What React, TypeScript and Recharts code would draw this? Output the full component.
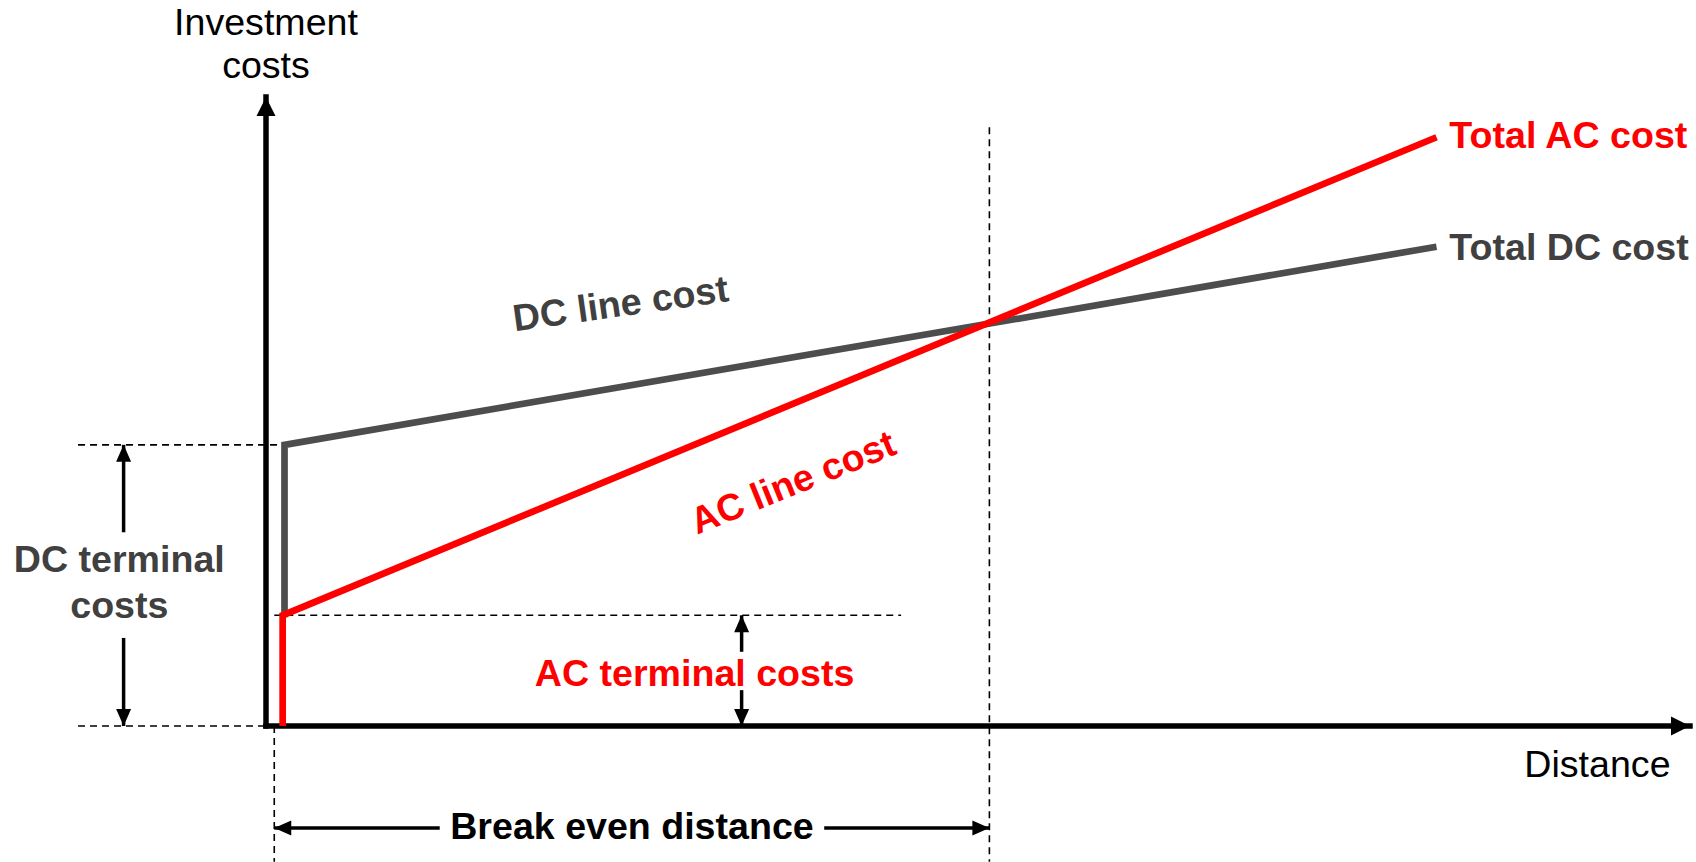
import React from 'react';
import { ComposedChart, Line, XAxis, YAxis, ReferenceLine, ReferenceDot } from 'recharts';

// distance (x) / investment cost (y), arbitrary units
const acDistance = [1.17, 1.17, 82.2];
const acCost = [0, 17.6, 93.6];
const dcDistance = [1.3, 1.3, 82.2];
const dcCost = [17.3, 44.7, 76.2];

const acTerminal = acCost[1];
const dcTerminal = dcCost[1];
const breakEven = 50.8;

const acPoints = acDistance.map((x, i) => ({ x, y: acCost[i] }));
const dcPoints = dcDistance.map((x, i) => ({ x, y: dcCost[i] }));

const RED = '#FF0000';
const GREY_LINE = '#4D4D4D';
const GREY_TEXT = '#404040';
const FONT = '"Liberation Sans", Arial, sans-serif';

// dashed helper lines: [x1, y1, x2, y2]
const guides = [
  [breakEven, 95.2, breakEven, -21.6],
  [0.58, 0, 0.58, -21.6],
  [-13.2, dcTerminal, 1.3, dcTerminal],
  [-13.2, 0, 0, 0],
  [0.58, acTerminal, 44.6, acTerminal],
];

// dimension arrows, each split round its label: [x1, y1, x2, y2]
const dimSegments = [
  [-10, dcTerminal, -10, 30.8],
  [-10, 14.0, -10, 0],
  [33.4, acTerminal, 33.4, 11.8],
  [33.4, 5.7, 33.4, 0],
  [0.58, -16.2, 12.2, -16.2],
  [39.2, -16.2, breakEven, -16.2],
];

type Dir = 'up' | 'down' | 'left' | 'right';
const dimHeads: { x: number; y: number; dir: Dir }[] = [
  { x: -10, y: dcTerminal, dir: 'up' },
  { x: -10, y: 0, dir: 'down' },
  { x: 33.4, y: acTerminal, dir: 'up' },
  { x: 33.4, y: 0, dir: 'down' },
  { x: 0.58, y: -16.2, dir: 'left' },
  { x: breakEven, y: -16.2, dir: 'right' },
];

const notes = [
  { text: 'Investment', x: 0, y: 109.9, color: '#000', bold: false, anchor: 'middle', angle: 0 },
  { text: 'costs', x: 0, y: 103.0, color: '#000', bold: false, anchor: 'middle', angle: 0 },
  { text: 'Distance', x: 93.5, y: -8.1, color: '#000', bold: false, anchor: 'middle', angle: 0 },
  { text: 'Total AC cost', x: 83.1, y: 91.9, color: RED, bold: true, anchor: 'start', angle: 0 },
  { text: 'Total DC cost', x: 83.1, y: 74.1, color: GREY_TEXT, bold: true, anchor: 'start', angle: 0 },
  { text: 'DC line cost', x: 24.9, y: 67.2, color: GREY_TEXT, bold: true, anchor: 'middle', angle: -8, central: true },
  { text: 'AC line cost', x: 37.0, y: 38.8, color: RED, bold: true, anchor: 'middle', angle: -22, central: true },
  { text: 'DC terminal', x: -10.3, y: 24.5, color: GREY_TEXT, bold: true, anchor: 'middle', angle: 0 },
  { text: 'costs', x: -10.3, y: 17.2, color: GREY_TEXT, bold: true, anchor: 'middle', angle: 0 },
  { text: 'AC terminal costs', x: 30.1, y: 6.4, color: RED, bold: true, anchor: 'middle', angle: 0 },
  { text: 'Break even distance', x: 25.7, y: -18.0, color: '#000', bold: true, anchor: 'middle', angle: 0 },
];

const arrowHead = (dir: Dir, len: number, half: number) => (p: any) => {
  const { cx, cy } = p;
  let pts: number[][];
  if (dir === 'up') pts = [[cx, cy], [cx - half, cy + len], [cx + half, cy + len]];
  else if (dir === 'down') pts = [[cx, cy], [cx - half, cy - len], [cx + half, cy - len]];
  else if (dir === 'left') pts = [[cx, cy], [cx + len, cy - half], [cx + len, cy + half]];
  else pts = [[cx, cy], [cx - len, cy - half], [cx - len, cy + half]];
  return <polygon points={pts.map((q) => q.join(',')).join(' ')} fill="#000" />;
};

const noteShape = (n: any) => (p: any) => (
  <text
    x={p.cx}
    y={p.cy}
    fill={n.color}
    fontFamily={FONT}
    fontSize={37.6}
    fontWeight={n.bold ? 700 : 400}
    textAnchor={n.anchor}
    dominantBaseline={n.central ? 'central' : 'alphabetic'}
    transform={n.angle ? `rotate(${n.angle}, ${p.cx}, ${p.cy})` : undefined}
  >
    {n.text}
  </text>
);

export default function App() {
  return (
    <div style={{ position: 'absolute', left: 0, top: 0, width: 1696, height: 862, background: '#fff' }}>
      <ComposedChart width={1696} height={862} margin={{ top: 97, right: 6, bottom: 136, left: 266 }}>
        <XAxis type="number" dataKey="x" domain={[0, 100]} allowDataOverflow hide />
        <YAxis type="number" domain={[0, 100]} allowDataOverflow hide />

        {guides.map((g, i) => (
          <ReferenceLine
            key={`g${i}`}
            segment={[{ x: g[0], y: g[1] }, { x: g[2], y: g[3] }]}
            ifOverflow="visible"
            stroke="#000"
            strokeWidth={1.6}
            strokeDasharray="7 5"
          />
        ))}

        {/* axes */}
        <ReferenceLine segment={[{ x: 0, y: 0 }, { x: 100, y: 0 }]} ifOverflow="visible" stroke="#000" strokeWidth={5.5} strokeLinecap="square" />
        <ReferenceLine segment={[{ x: 0, y: 0 }, { x: 0, y: 100 }]} ifOverflow="visible" stroke="#000" strokeWidth={5.5} strokeLinecap="square" />
        <ReferenceDot x={100} y={0} ifOverflow="visible" shape={arrowHead('right', 19, 9.5)} />
        <ReferenceDot x={0} y={100} ifOverflow="visible" shape={arrowHead('up', 19, 9.5)} />

        <Line data={dcPoints} dataKey="y" type="linear" stroke={GREY_LINE} strokeWidth={6.7} strokeLinejoin="miter" dot={false} activeDot={false} isAnimationActive={false} />
        <Line data={acPoints} dataKey="y" type="linear" stroke={RED} strokeWidth={6.7} strokeLinejoin="miter" dot={false} activeDot={false} isAnimationActive={false} />

        {dimSegments.map((s, i) => (
          <ReferenceLine
            key={`d${i}`}
            segment={[{ x: s[0], y: s[1] }, { x: s[2], y: s[3] }]}
            ifOverflow="visible"
            stroke="#000"
            strokeWidth={3.5}
          />
        ))}
        {dimHeads.map((h, i) => (
          <ReferenceDot key={`h${i}`} x={h.x} y={h.y} ifOverflow="visible" shape={arrowHead(h.dir, 17, 7.5)} />
        ))}

        {notes.map((n, i) => (
          <ReferenceDot key={`n${i}`} x={n.x} y={n.y} ifOverflow="visible" shape={noteShape(n)} />
        ))}
      </ComposedChart>
    </div>
  );
}
